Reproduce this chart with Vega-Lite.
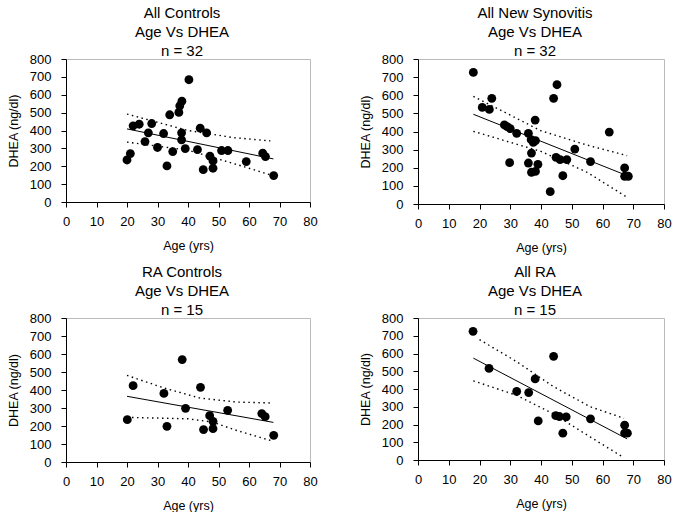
{
  "$schema": "https://vega.github.io/schema/vega-lite/v6.json",
  "background": "white",
  "padding": {"left": 6, "top": 5, "right": 6, "bottom": 0},
  "config": {
    "font": "Liberation Sans",
    "view": {"stroke": "#bbbbbb", "strokeWidth": 1},
    "axis": {
      "grid": false, "domainColor": "#000", "tickColor": "#000", "tickSize": 5,
      "labelColor": "#000", "titleColor": "#000", "labelFontSize": 13, "titleFontSize": 12.5,
      "titleFontWeight": "normal", "labelFont": "Liberation Sans", "titleFont": "Liberation Sans",
      "labelOverlap": false, "labelFlush": false
    },
    "axisX": {"labelPadding": 8, "titlePadding": 11},
    "axisY": {"labelPadding": 10, "titlePadding": 9},
    "title": {"fontSize": 15, "fontWeight": "normal", "font": "Liberation Sans", "lineHeight": 19, "offset": -6, "dx": -6, "color": "#000", "frame": "group", "anchor": "middle"}
  },
  "datasets": {
    "pts": [
      {"panel": "AC", "age": 20.0, "dhea": 235}, {"panel": "AC", "age": 21.1, "dhea": 271},
      {"panel": "AC", "age": 22.0, "dhea": 426}, {"panel": "AC", "age": 24.0, "dhea": 435},
      {"panel": "AC", "age": 25.9, "dhea": 338}, {"panel": "AC", "age": 27.0, "dhea": 387},
      {"panel": "AC", "age": 28.1, "dhea": 439}, {"panel": "AC", "age": 30.0, "dhea": 305},
      {"panel": "AC", "age": 32.0, "dhea": 383}, {"panel": "AC", "age": 33.1, "dhea": 202},
      {"panel": "AC", "age": 34.0, "dhea": 488}, {"panel": "AC", "age": 35.0, "dhea": 282},
      {"panel": "AC", "age": 37.0, "dhea": 501}, {"panel": "AC", "age": 37.3, "dhea": 538},
      {"panel": "AC", "age": 38.0, "dhea": 564}, {"panel": "AC", "age": 37.9, "dhea": 387},
      {"panel": "AC", "age": 37.9, "dhea": 348}, {"panel": "AC", "age": 39.1, "dhea": 299},
      {"panel": "AC", "age": 40.3, "dhea": 684}, {"panel": "AC", "age": 43.1, "dhea": 293},
      {"panel": "AC", "age": 44.0, "dhea": 413}, {"panel": "AC", "age": 46.1, "dhea": 387},
      {"panel": "AC", "age": 45.0, "dhea": 181}, {"panel": "AC", "age": 47.2, "dhea": 256},
      {"panel": "AC", "age": 48.2, "dhea": 230}, {"panel": "AC", "age": 48.2, "dhea": 189},
      {"panel": "AC", "age": 51.0, "dhea": 288}, {"panel": "AC", "age": 53.1, "dhea": 288},
      {"panel": "AC", "age": 59.1, "dhea": 226}, {"panel": "AC", "age": 64.5, "dhea": 273},
      {"panel": "AC", "age": 65.4, "dhea": 254}, {"panel": "AC", "age": 68.1, "dhea": 148},

      {"panel": "NS", "age": 18.0, "dhea": 726}, {"panel": "NS", "age": 20.9, "dhea": 533},
      {"panel": "NS", "age": 23.2, "dhea": 522}, {"panel": "NS", "age": 24.0, "dhea": 583},
      {"panel": "NS", "age": 28.1, "dhea": 436}, {"panel": "NS", "age": 29.0, "dhea": 427},
      {"panel": "NS", "age": 30.0, "dhea": 416}, {"panel": "NS", "age": 32.1, "dhea": 390},
      {"panel": "NS", "age": 29.8, "dhea": 228}, {"panel": "NS", "age": 35.9, "dhea": 390},
      {"panel": "NS", "age": 36.8, "dhea": 355}, {"panel": "NS", "age": 38.2, "dhea": 349},
      {"panel": "NS", "age": 37.5, "dhea": 340}, {"panel": "NS", "age": 38.1, "dhea": 463},
      {"panel": "NS", "age": 36.9, "dhea": 281}, {"panel": "NS", "age": 35.9, "dhea": 226},
      {"panel": "NS", "age": 36.9, "dhea": 175}, {"panel": "NS", "age": 38.2, "dhea": 180},
      {"panel": "NS", "age": 39.0, "dhea": 219}, {"panel": "NS", "age": 43.0, "dhea": 68},
      {"panel": "NS", "age": 44.1, "dhea": 583}, {"panel": "NS", "age": 45.2, "dhea": 658},
      {"panel": "NS", "age": 44.9, "dhea": 257}, {"panel": "NS", "age": 46.2, "dhea": 245},
      {"panel": "NS", "age": 48.4, "dhea": 245}, {"panel": "NS", "age": 47.1, "dhea": 156},
      {"panel": "NS", "age": 51.0, "dhea": 303}, {"panel": "NS", "age": 56.1, "dhea": 234},
      {"panel": "NS", "age": 62.2, "dhea": 397}, {"panel": "NS", "age": 67.2, "dhea": 199},
      {"panel": "NS", "age": 67.2, "dhea": 153}, {"panel": "NS", "age": 68.4, "dhea": 153},

      {"panel": "RC", "age": 20.1, "dhea": 235}, {"panel": "RC", "age": 22.0, "dhea": 424},
      {"panel": "RC", "age": 32.1, "dhea": 381}, {"panel": "RC", "age": 33.1, "dhea": 198},
      {"panel": "RC", "age": 38.1, "dhea": 569}, {"panel": "RC", "age": 39.2, "dhea": 298},
      {"panel": "RC", "age": 44.1, "dhea": 415}, {"panel": "RC", "age": 45.1, "dhea": 180},
      {"panel": "RC", "age": 47.1, "dhea": 257}, {"panel": "RC", "age": 48.2, "dhea": 226},
      {"panel": "RC", "age": 48.2, "dhea": 185}, {"panel": "RC", "age": 53.0, "dhea": 287},
      {"panel": "RC", "age": 64.2, "dhea": 269}, {"panel": "RC", "age": 65.3, "dhea": 252},
      {"panel": "RC", "age": 68.1, "dhea": 148},

      {"panel": "RA", "age": 17.9, "dhea": 725}, {"panel": "RA", "age": 23.1, "dhea": 516},
      {"panel": "RA", "age": 32.1, "dhea": 386}, {"panel": "RA", "age": 36.0, "dhea": 380},
      {"panel": "RA", "age": 38.1, "dhea": 457}, {"panel": "RA", "age": 39.1, "dhea": 220},
      {"panel": "RA", "age": 44.1, "dhea": 584}, {"panel": "RA", "age": 44.8, "dhea": 250},
      {"panel": "RA", "age": 46.0, "dhea": 245}, {"panel": "RA", "age": 48.2, "dhea": 243},
      {"panel": "RA", "age": 47.1, "dhea": 151}, {"panel": "RA", "age": 56.1, "dhea": 232},
      {"panel": "RA", "age": 67.2, "dhea": 196}, {"panel": "RA", "age": 67.2, "dhea": 151},
      {"panel": "RA", "age": 68.1, "dhea": 151}
    ],
    "lines": [
      {"panel": "AC", "series": "fit", "age": 20, "dhea": 409}, {"panel": "AC", "series": "fit", "age": 68, "dhea": 241},
      {"panel": "AC", "series": "upper", "age": 20, "dhea": 492}, {"panel": "AC", "series": "upper", "age": 40, "dhea": 400},
      {"panel": "AC", "series": "upper", "age": 55, "dhea": 360}, {"panel": "AC", "series": "upper", "age": 67, "dhea": 342},
      {"panel": "AC", "series": "lower", "age": 20, "dhea": 335}, {"panel": "AC", "series": "lower", "age": 40, "dhea": 290},
      {"panel": "AC", "series": "lower", "age": 55, "dhea": 215}, {"panel": "AC", "series": "lower", "age": 67, "dhea": 152},

      {"panel": "NS", "series": "fit", "age": 18, "dhea": 495}, {"panel": "NS", "series": "fit", "age": 67.5, "dhea": 160},
      {"panel": "NS", "series": "upper", "age": 18, "dhea": 594}, {"panel": "NS", "series": "upper", "age": 40, "dhea": 404},
      {"panel": "NS", "series": "upper", "age": 55, "dhea": 325}, {"panel": "NS", "series": "upper", "age": 68, "dhea": 267},
      {"panel": "NS", "series": "lower", "age": 18, "dhea": 401}, {"panel": "NS", "series": "lower", "age": 40, "dhea": 290},
      {"panel": "NS", "series": "lower", "age": 55, "dhea": 175}, {"panel": "NS", "series": "lower", "age": 68, "dhea": 37},

      {"panel": "RC", "series": "fit", "age": 20, "dhea": 365}, {"panel": "RC", "series": "fit", "age": 68, "dhea": 220},
      {"panel": "RC", "series": "upper", "age": 20, "dhea": 481}, {"panel": "RC", "series": "upper", "age": 32, "dhea": 412},
      {"panel": "RC", "series": "upper", "age": 44, "dhea": 355}, {"panel": "RC", "series": "upper", "age": 56, "dhea": 333},
      {"panel": "RC", "series": "upper", "age": 67, "dhea": 328},
      {"panel": "RC", "series": "lower", "age": 20, "dhea": 248}, {"panel": "RC", "series": "lower", "age": 40, "dhea": 240},
      {"panel": "RC", "series": "lower", "age": 48, "dhea": 222}, {"panel": "RC", "series": "lower", "age": 56, "dhea": 175},
      {"panel": "RC", "series": "lower", "age": 68, "dhea": 115},

      {"panel": "RA", "series": "fit", "age": 18, "dhea": 574}, {"panel": "RA", "series": "fit", "age": 68, "dhea": 119},
      {"panel": "RA", "series": "upper", "age": 20, "dhea": 678}, {"panel": "RA", "series": "upper", "age": 32, "dhea": 555},
      {"panel": "RA", "series": "upper", "age": 44, "dhea": 414}, {"panel": "RA", "series": "upper", "age": 56, "dhea": 300},
      {"panel": "RA", "series": "upper", "age": 67, "dhea": 235},
      {"panel": "RA", "series": "lower", "age": 18, "dhea": 446}, {"panel": "RA", "series": "lower", "age": 32, "dhea": 365},
      {"panel": "RA", "series": "lower", "age": 44, "dhea": 260}, {"panel": "RA", "series": "lower", "age": 56, "dhea": 130},
      {"panel": "RA", "series": "lower", "age": 66.5, "dhea": 18}
    ]
  },
  "columns": 2,
  "spacing": {"row": 10, "column": 40},
  "concat": [
    {
      "title": {"text": ["All Controls", "Age Vs DHEA", "n = 32"]},
      "width": 244, "height": 143,
      "encoding": {
        "x": {"field": "age", "type": "quantitative", "scale": {"domain": [0, 80], "nice": false}, "axis": {"values": [0,10,20,30,40,50,60,70,80], "title": "Age (yrs)", "labelOverlap": false}},
        "y": {"field": "dhea", "type": "quantitative", "scale": {"domain": [0, 800], "nice": false}, "axis": {"values": [0,100,200,300,400,500,600,700,800], "title": "DHEA (ng/dl)", "labelOverlap": false}}
      },
      "layer": [
        {"data": {"name": "lines"}, "transform": [{"filter": "datum.panel == 'AC' && datum.series != 'fit'"}],
         "mark": {"type": "line", "color": "#000", "strokeWidth": 1.4, "strokeDash": [1.5, 3.5]},
         "encoding": {"detail": {"field": "series"}}},
        {"data": {"name": "lines"}, "transform": [{"filter": "datum.panel == 'AC' && datum.series == 'fit'"}],
         "mark": {"type": "line", "color": "#000", "strokeWidth": 1}, "encoding": {}},
        {"data": {"name": "pts"}, "transform": [{"filter": "datum.panel == 'AC'"}],
         "mark": {"type": "circle", "color": "#000", "opacity": 1, "size": 78}}
      ]
    },
    {
      "title": {"text": ["All New Synovitis", "Age Vs DHEA", "n = 32"]},
      "width": 246, "height": 145,
      "encoding": {
        "x": {"field": "age", "type": "quantitative", "scale": {"domain": [0, 80], "nice": false}, "axis": {"values": [0,10,20,30,40,50,60,70,80], "title": "Age (yrs)", "labelOverlap": false}},
        "y": {"field": "dhea", "type": "quantitative", "scale": {"domain": [0, 800], "nice": false}, "axis": {"values": [0,100,200,300,400,500,600,700,800], "title": "DHEA (ng/dl)", "labelOverlap": false}}
      },
      "layer": [
        {"data": {"name": "lines"}, "transform": [{"filter": "datum.panel == 'NS' && datum.series != 'fit'"}],
         "mark": {"type": "line", "color": "#000", "strokeWidth": 1.4, "strokeDash": [1.5, 3.5]},
         "encoding": {"detail": {"field": "series"}}},
        {"data": {"name": "lines"}, "transform": [{"filter": "datum.panel == 'NS' && datum.series == 'fit'"}],
         "mark": {"type": "line", "color": "#000", "strokeWidth": 1}, "encoding": {}},
        {"data": {"name": "pts"}, "transform": [{"filter": "datum.panel == 'NS'"}],
         "mark": {"type": "circle", "color": "#000", "opacity": 1, "size": 78}}
      ]
    },
    {
      "title": {"text": ["RA Controls", "Age Vs DHEA", "n = 15"]},
      "width": 244, "height": 144,
      "encoding": {
        "x": {"field": "age", "type": "quantitative", "scale": {"domain": [0, 80], "nice": false}, "axis": {"values": [0,10,20,30,40,50,60,70,80], "title": "Age (yrs)", "labelOverlap": false}},
        "y": {"field": "dhea", "type": "quantitative", "scale": {"domain": [0, 800], "nice": false}, "axis": {"values": [0,100,200,300,400,500,600,700,800], "title": "DHEA (ng/dl)", "labelOverlap": false}}
      },
      "layer": [
        {"data": {"name": "lines"}, "transform": [{"filter": "datum.panel == 'RC' && datum.series != 'fit'"}],
         "mark": {"type": "line", "color": "#000", "strokeWidth": 1.4, "strokeDash": [1.5, 3.5]},
         "encoding": {"detail": {"field": "series"}}},
        {"data": {"name": "lines"}, "transform": [{"filter": "datum.panel == 'RC' && datum.series == 'fit'"}],
         "mark": {"type": "line", "color": "#000", "strokeWidth": 1}, "encoding": {}},
        {"data": {"name": "pts"}, "transform": [{"filter": "datum.panel == 'RC'"}],
         "mark": {"type": "circle", "color": "#000", "opacity": 1, "size": 78}}
      ]
    },
    {
      "title": {"text": ["All RA", "Age Vs DHEA", "n = 15"]},
      "width": 246, "height": 142,
      "encoding": {
        "x": {"field": "age", "type": "quantitative", "scale": {"domain": [0, 80], "nice": false}, "axis": {"values": [0,10,20,30,40,50,60,70,80], "title": "Age (yrs)", "labelOverlap": false}},
        "y": {"field": "dhea", "type": "quantitative", "scale": {"domain": [0, 800], "nice": false}, "axis": {"values": [0,100,200,300,400,500,600,700,800], "title": "DHEA (ng/dl)", "labelOverlap": false}}
      },
      "layer": [
        {"data": {"name": "lines"}, "transform": [{"filter": "datum.panel == 'RA' && datum.series != 'fit'"}],
         "mark": {"type": "line", "color": "#000", "strokeWidth": 1.4, "strokeDash": [1.5, 3.5]},
         "encoding": {"detail": {"field": "series"}}},
        {"data": {"name": "lines"}, "transform": [{"filter": "datum.panel == 'RA' && datum.series == 'fit'"}],
         "mark": {"type": "line", "color": "#000", "strokeWidth": 1}, "encoding": {}},
        {"data": {"name": "pts"}, "transform": [{"filter": "datum.panel == 'RA'"}],
         "mark": {"type": "circle", "color": "#000", "opacity": 1, "size": 78}}
      ]
    }
  ]
}
